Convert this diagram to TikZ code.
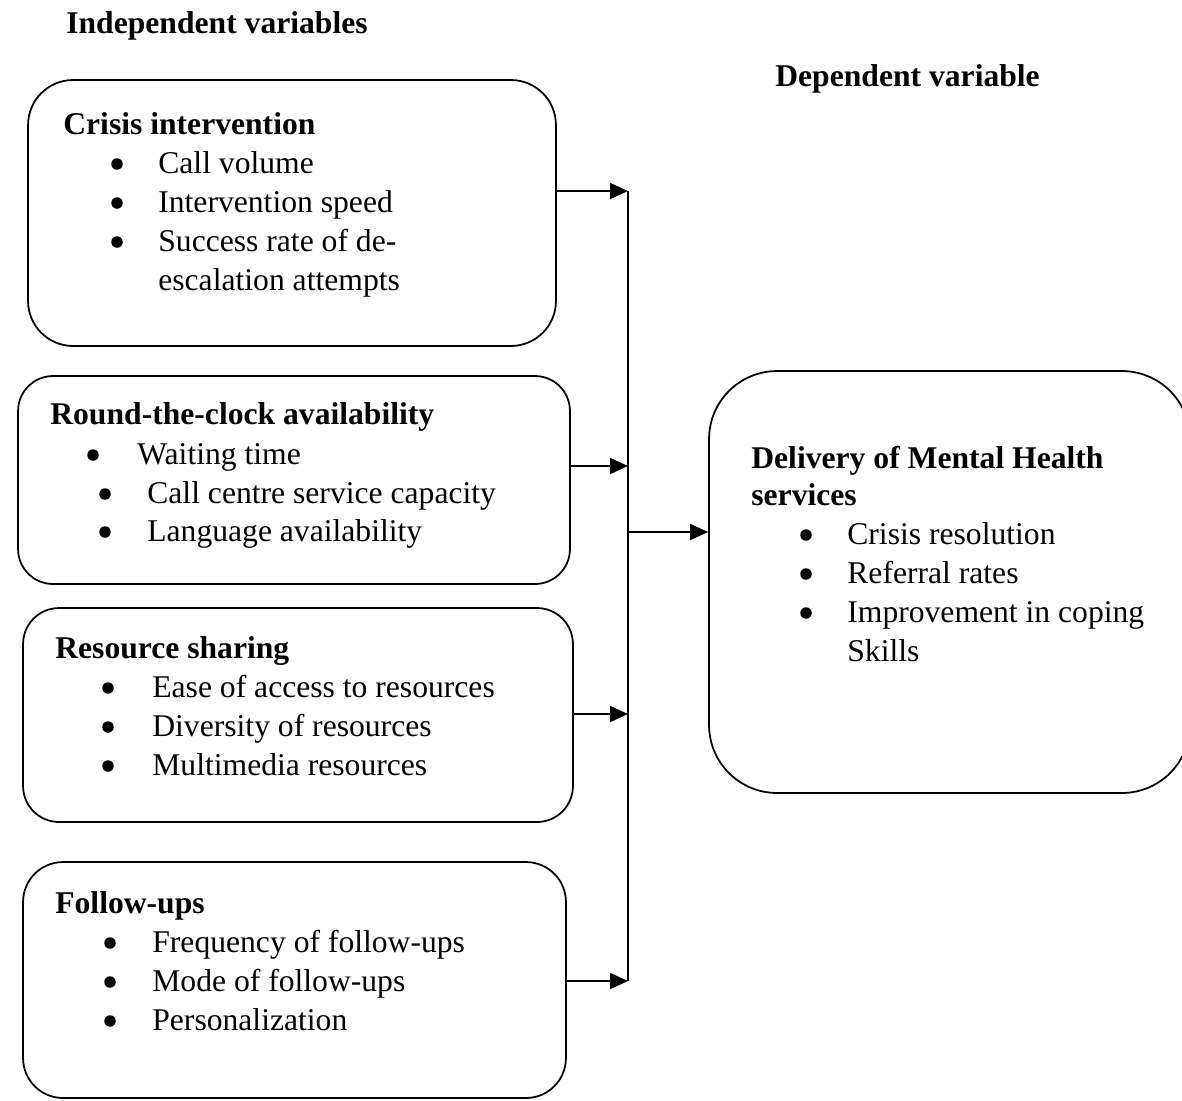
\documentclass[tikz,border=0pt]{standalone}
\usepackage{fontspec}
\setmainfont{Liberation Serif}
\usetikzlibrary{positioning,arrows.meta}

\tikzset{
  varbox/.style={draw, line width=1pt, rounded corners=#1, inner sep=0pt},
  head/.style={font=\fontsize{18}{22}\selectfont\bfseries, anchor=base west, inner sep=0pt},
  item/.style={anchor=base west, inner sep=0pt},
  dot/.style={circle, fill, inner sep=0pt, minimum size=0.23cm, yshift=0.18cm},
  link/.style={line width=1pt, -{Triangle[length=0.36cm,width=0.32cm]}}
}

\begin{document}
\begin{tikzpicture}[x=0.02cm, y=-0.02cm, font=\fontsize{18}{22}\selectfont]
\useasboundingbox (0,0) rectangle (1182,1100);

\node[head] (indep) at (66,33) {Independent variables};
\node[head] (dep) at (775,86) {Dependent variable};

% boxes
\node[varbox=0.9cm, minimum width=10.56cm, minimum height=5.32cm] (crisis) at (292,213) {};
\node[varbox=0.7cm, minimum width=11.04cm, minimum height=4.16cm] (clock) at (294,480) {};
\node[varbox=0.72cm, minimum width=11cm, minimum height=4.28cm] (resource) at (298,715) {};
\node[varbox=0.8cm, minimum width=10.86cm, minimum height=4.72cm] (followup) at (294.5,980) {};
\node[varbox=1.36cm, minimum width=9.62cm, minimum height=8.44cm] (delivery) at (949.5,582) {};

% crisis intervention
\node[head] (crisis-title) at (63,134) {Crisis intervention};
\foreach \n/\y/\t in {1/173/Call volume, 2/212/Intervention speed, 3/251/Success rate of de-} {
    \node[dot] (crisis-dot\n) at (117,\y) {};
    \node[item] (crisis-item\n) at (158,\y) {\t};
}
\node[item] (crisis-item4) at (158,290) {escalation attempts};

% round-the-clock availability
\node[head] (clock-title) at (50,424) {Round-the-clock availability};
\node[dot] (clock-dot1) at (93,464) {};
\node[item] (clock-item1) at (137,464) {Waiting time};
\foreach \n/\y/\t in {2/503/Call centre service capacity, 3/541/Language availability} {
    \node[dot] (clock-dot\n) at (105,\y) {};
    \node[item] (clock-item\n) at (147,\y) {\t};
}

% resource sharing
\node[head] (resource-title) at (55,658) {Resource sharing};
\foreach \n/\y/\t in {1/697/Ease of access to resources, 2/736/Diversity of resources, 3/775/Multimedia resources} {
    \node[dot] (resource-dot\n) at (108,\y) {};
    \node[item] (resource-item\n) at (152,\y) {\t};
}

% follow-ups
\node[head] (followup-title) at (55,913) {Follow-ups};
\foreach \n/\y/\t in {1/952/Frequency of follow-ups, 2/991/Mode of follow-ups, 3/1030/Personalization} {
    \node[dot] (followup-dot\n) at (110,\y) {};
    \node[item] (followup-item\n) at (152,\y) {\t};
}

% delivery of mental health services
\node[head] (delivery-title1) at (751,468) {Delivery of Mental Health};
\node[head] (delivery-title2) at (751,505) {services};
\foreach \n/\y/\t in {1/544/Crisis resolution, 2/583/Referral rates, 3/622/Improvement in coping} {
    \node[dot] (delivery-dot\n) at (806,\y) {};
    \node[item] (delivery-item\n) at (847,\y) {\t};
}
\node[item] (delivery-item4) at (847,661) {Skills};

% connectors
\coordinate (bus1) at (628,191);
\coordinate (bus2) at (628,466);
\coordinate (bus3) at (628,714);
\coordinate (bus4) at (628,981);
\coordinate (busmid) at (628,532);

\draw[line width=1pt] (bus1) -- (bus4);
\draw[link] (crisis.east |- bus1) -- (bus1);
\draw[link] (clock.east |- bus2) -- (bus2);
\draw[link] (resource.east |- bus3) -- (bus3);
\draw[link] (followup.east |- bus4) -- (bus4);
\draw[link] (busmid) -- (delivery.west |- busmid);
\end{tikzpicture}
\end{document}
